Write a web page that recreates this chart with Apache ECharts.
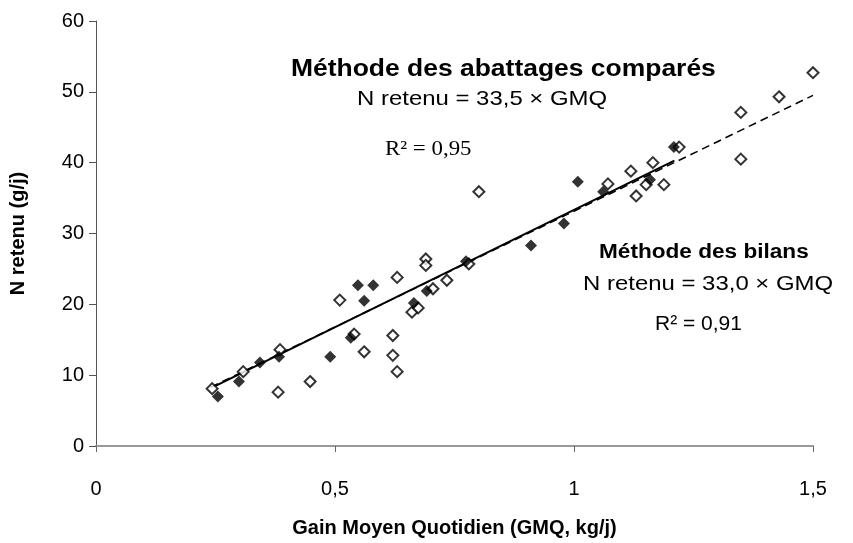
<!DOCTYPE html>
<html>
<head>
<meta charset="utf-8">
<script src="https://cdn.jsdelivr.net/npm/echarts@6/dist/echarts.min.js"></script>
<style>
  html, body { margin: 0; padding: 0; background: #fff; }
  #chart { width: 853px; height: 543px; }
</style>
</head>
<body>
<div id="chart"></div>
<script>
// Méthode des abattages comparés (losanges vides)
var abattagesX = [0.243, 0.308, 0.385, 0.381, 0.448, 0.510, 0.540, 0.561, 0.630, 0.621, 0.621, 0.630, 0.690, 0.690, 0.661, 0.674,
                  0.705, 0.734, 0.780, 0.801, 1.071, 1.119, 1.165, 1.151, 1.188, 1.130, 1.220, 1.349, 1.349, 1.429, 1.500];
var abattagesY = [8.1, 10.5, 13.6, 7.6, 9.1, 20.6, 15.8, 13.3, 23.8, 15.6, 12.8, 10.5, 26.4, 25.5, 18.9, 19.5,
                  22.2, 23.4, 25.7, 35.9, 37.0, 38.8, 40.0, 36.9, 36.9, 35.3, 42.2, 47.1, 40.5, 49.3, 52.7];

// Méthode des bilans (losanges pleins)
var bilansX = [0.255, 0.299, 0.343, 0.383, 0.490, 0.533, 0.548, 0.580, 0.561, 0.665, 0.692, 0.774, 0.910, 0.979, 1.008, 1.061, 1.159, 1.209];
var bilansY = [7.0, 9.1, 11.8, 12.6, 12.6, 15.3, 22.7, 22.7, 20.5, 20.2, 21.9, 26.1, 28.3, 31.4, 37.3, 35.9, 37.6, 42.2];

// droites de régression (extrémités)
var droiteAbattagesX = [0.24, 1.5];
var droiteAbattagesY = [8.3, 49.5];
var droiteBilansX = [0.25, 1.21];
var droiteBilansY = [8.5, 40.3];

var xTicks = [0, 0.5, 1, 1.5];
var yTicks = [0, 10, 20, 30, 40, 50, 60];

function pairs(xs, ys) {
    var out = [];
    for (var i = 0; i < xs.length; i++) {
        out.push([xs[i], ys[i]]);
    }
    return out;
}

var chart = echarts.init(document.getElementById('chart'));

var font = '"Liberation Sans", Arial, sans-serif';
var serif = '"Liberation Serif", "Times New Roman", serif';

// texte étiré horizontalement comme dans l'original
function label(text, x, y, size, weight, family, sx) {
    return {
        type: 'text', x: x, y: y, scaleX: sx, scaleY: 1,
        style: {
            text: text, fill: '#000', align: 'left', verticalAlign: 'top',
            font: weight + ' ' + size + 'px ' + family
        }
    };
}

var option = {
    backgroundColor: '#fff',
    animation: false,
    grid: { left: 96, right: 40, top: 21, bottom: 94, containLabel: false },
    xAxis: {
        type: 'value',
        min: xTicks[0],
        max: xTicks[xTicks.length - 1],
        interval: 0.5,
        name: 'Gain Moyen Quotidien (GMQ, kg/j)',
        nameLocation: 'middle',
        nameGap: 72,
        nameTextStyle: { color: '#000', fontFamily: font, fontWeight: 'bold', fontSize: 20 },
        axisLine: { onZero: false, lineStyle: { color: '#999', width: 2 } },
        axisTick: { show: true, length: 6, lineStyle: { color: '#666' } },
        axisLabel: {
            color: '#000', fontFamily: font, fontSize: 20, margin: 33,
            formatter: function (v) { return String(v).replace('.', ','); }
        },
        splitLine: { show: false }
    },
    yAxis: {
        type: 'value',
        min: yTicks[0],
        max: yTicks[yTicks.length - 1],
        interval: 10,
        name: 'N retenu (g/j)',
        nameLocation: 'middle',
        nameGap: 68,
        nameTextStyle: { color: '#000', fontFamily: font, fontWeight: 'bold', fontSize: 20 },
        axisLine: { show: true, lineStyle: { color: '#555', width: 1 } },
        axisTick: { show: true, length: 7, lineStyle: { color: '#555' } },
        axisLabel: { color: '#000', fontFamily: font, fontSize: 20, margin: 12 },
        splitLine: { show: false }
    },
    series: [
        {
            name: 'droite abattages',
            type: 'line',
            data: pairs(droiteAbattagesX, droiteAbattagesY),
            symbol: 'none',
            lineStyle: { color: '#000', width: 1.5, type: [8, 5] },
            z: 2
        },
        {
            name: 'droite bilans',
            type: 'line',
            data: pairs(droiteBilansX, droiteBilansY),
            symbol: 'none',
            lineStyle: { color: '#000', width: 2 },
            z: 2
        },
        {
            name: 'Méthode des abattages comparés',
            type: 'scatter',
            data: pairs(abattagesX, abattagesY),
            symbol: 'diamond',
            symbolSize: 11,
            itemStyle: { color: '#fff', borderColor: '#000', borderWidth: 2 },
            z: 3
        },
        {
            name: 'Méthode des bilans',
            type: 'scatter',
            data: pairs(bilansX, bilansY),
            symbol: 'diamond',
            symbolSize: 12,
            itemStyle: { color: '#000' },
            z: 4
        }
    ],
    graphic: [
        label('Méthode des abattages comparés', 291, 58, 23, 'bold', font, 1.15),
        label('N retenu = 33,5 × GMQ', 357, 89, 21, 'normal', font, 1.14),
        label('R² = 0,95', 385, 139, 21, 'normal', serif, 1.09),
        label('Méthode des bilans', 599, 242, 20, 'bold', font, 1.13),
        label('N retenu = 33,0 × GMQ', 583, 274, 21, 'normal', font, 1.14),
        label('R² = 0,91', 655, 314, 20, 'normal', font, 1.05)
    ]
};

chart.setOption(option);
</script>
</body>
</html>
